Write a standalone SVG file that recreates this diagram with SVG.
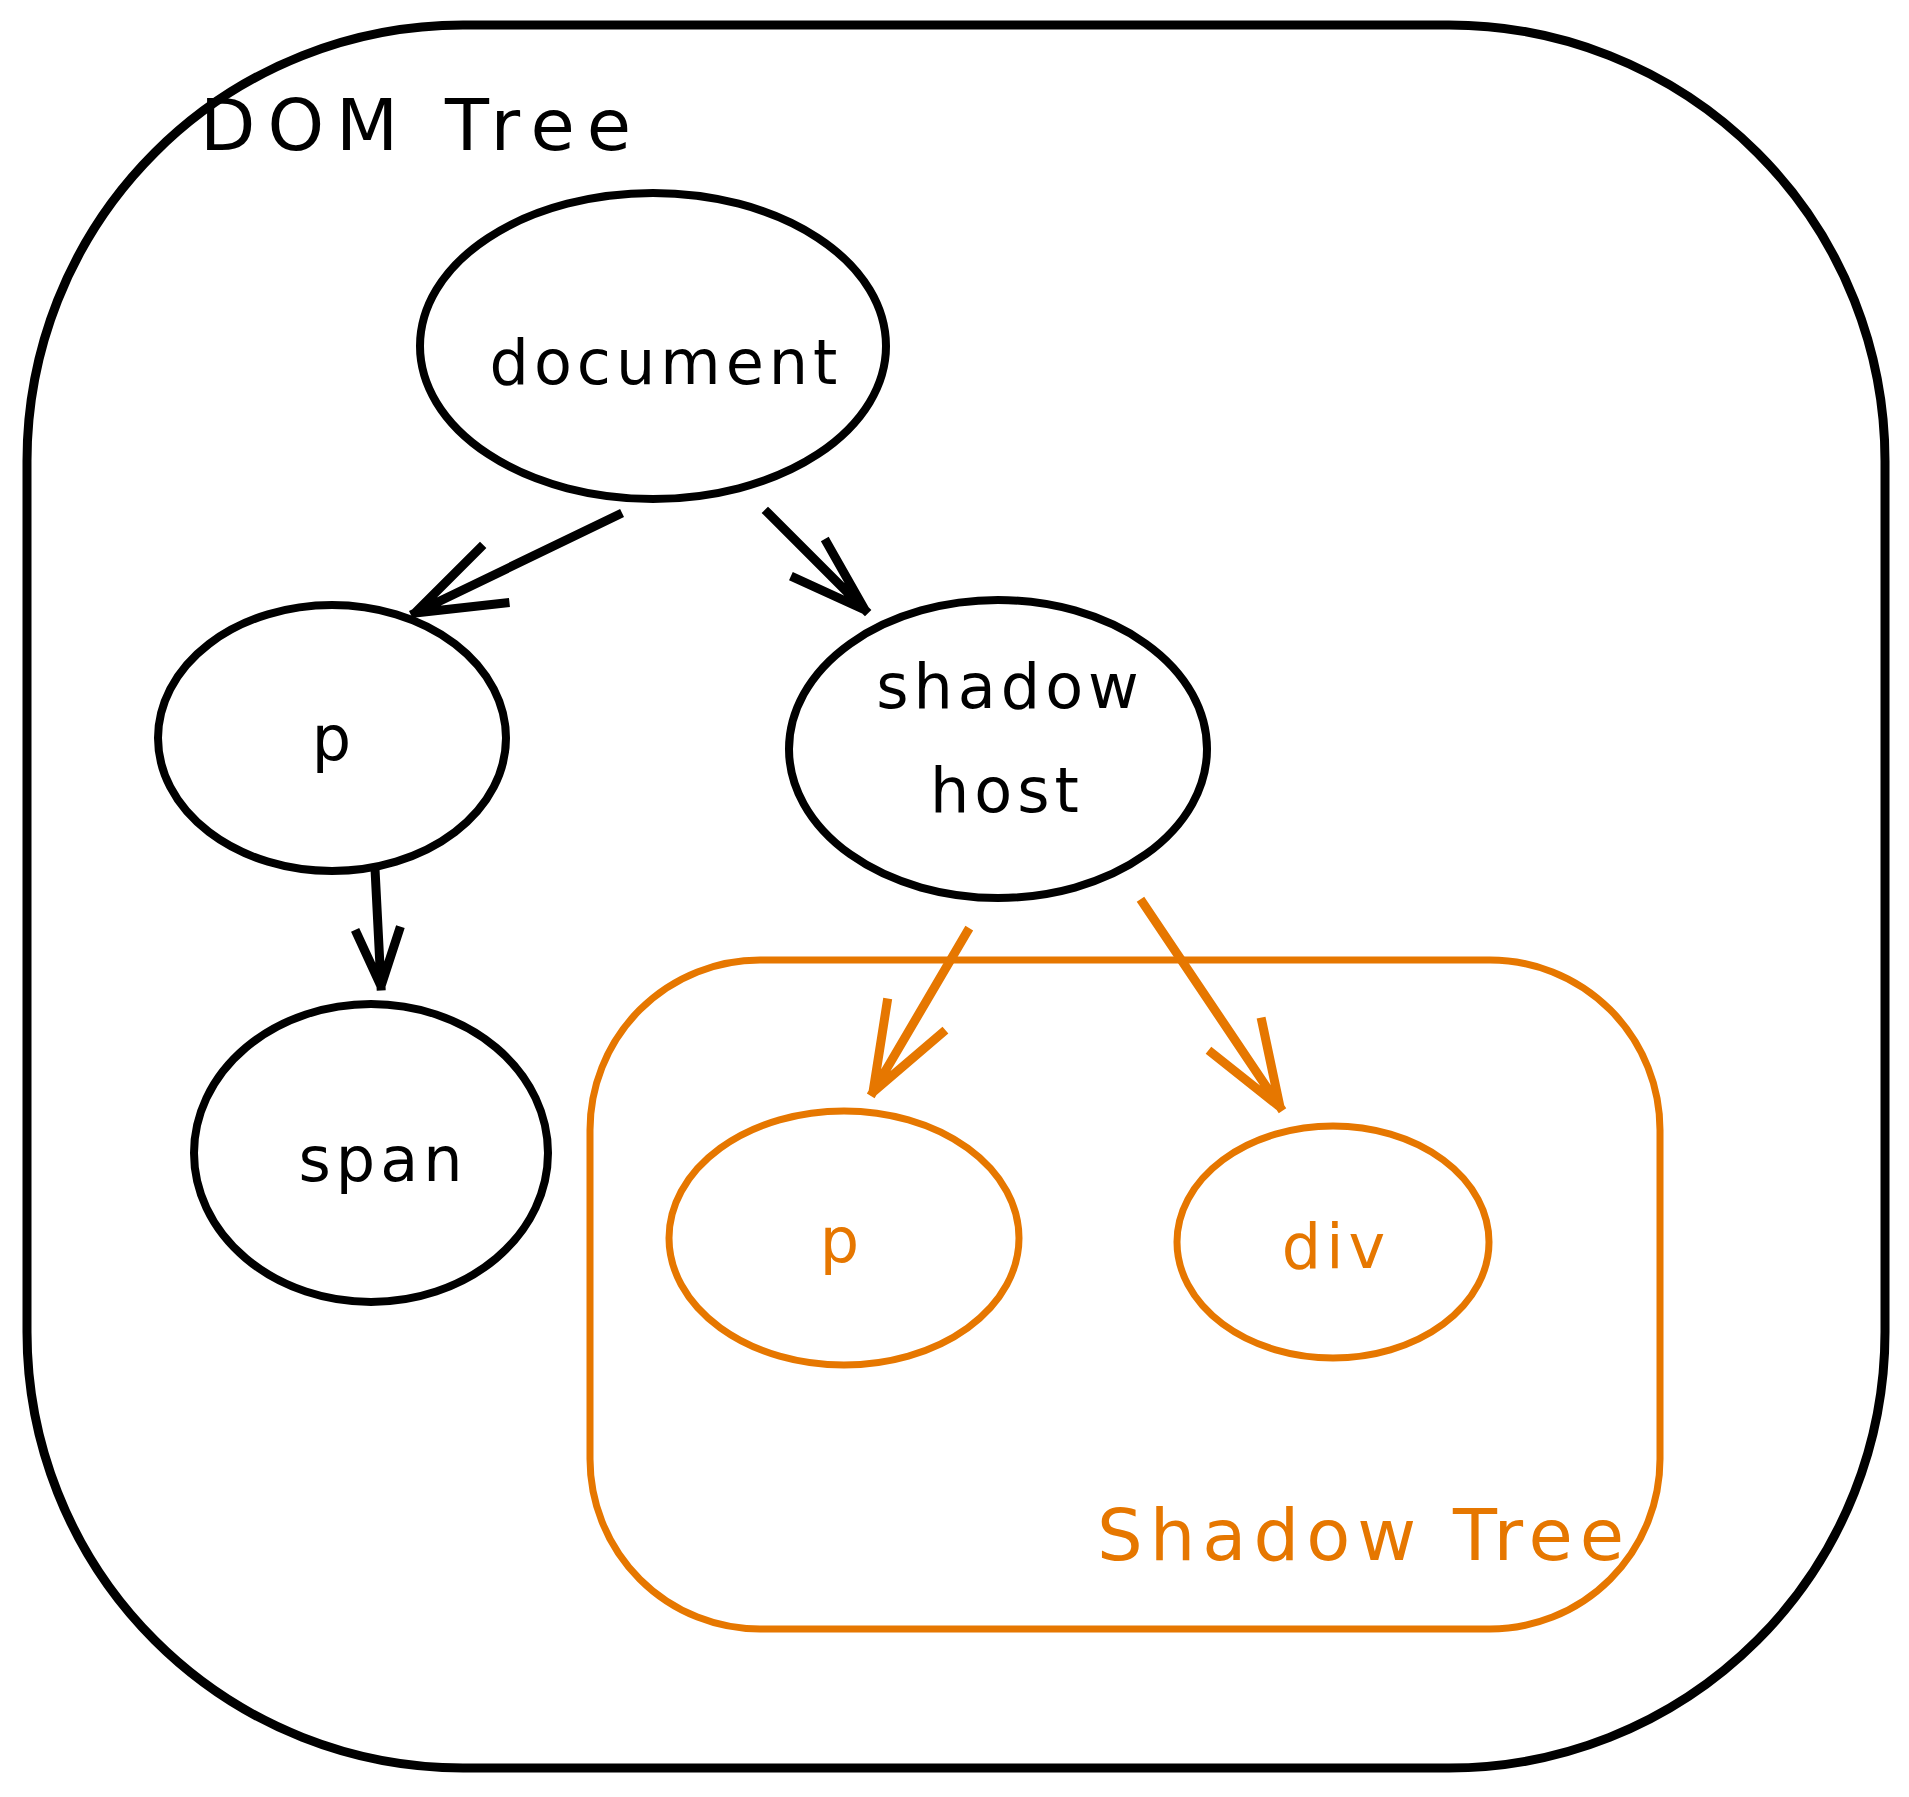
<svg xmlns="http://www.w3.org/2000/svg" width="1909" height="1797" viewBox="0 0 1909 1797">
<style>
.blk{fill:none;stroke:#000;stroke-width:8;stroke-linecap:round;stroke-linejoin:round}
.outer{stroke-width:9}
.org{fill:none;stroke:#e67700;stroke-width:7;stroke-linecap:round;stroke-linejoin:round}
.arrB{fill:none;stroke:#000;stroke-width:9;stroke-linecap:square;stroke-linejoin:round}
.arrO{fill:none;stroke:#e67700;stroke-width:9;stroke-linecap:square;stroke-linejoin:round}
.t{font-family:"DejaVu Sans","Liberation Sans",sans-serif;font-size:62px;letter-spacing:5px;text-anchor:middle}
.tb{fill:#000}
.to{fill:#e67700}
</style>
<rect width="1909" height="1797" fill="#fff"/>
<g id="dom-tree">
<rect class="blk outer" x="27" y="25" width="1858" height="1743" rx="436" ry="436"/>
<text class="t tb" x="200" y="150" style="text-anchor:start;font-size:72px;letter-spacing:12px">DOM Tree</text>
</g>
<g id="shadow-tree">
<rect class="org" x="590" y="960" width="1070" height="669" rx="170" ry="170"/>
<text class="t to" x="1097" y="1560" style="text-anchor:start;font-size:72px;letter-spacing:7px">Shadow Tree</text>
</g>
<g id="node-document">
<ellipse class="blk" cx="653" cy="346" rx="233" ry="153"/>
<text class="t tb" x="666" y="384">document</text>
</g>
<g id="node-p">
<ellipse class="blk" cx="332" cy="738" rx="174" ry="133"/>
<text class="t tb" x="334" y="760">p</text>
</g>
<g id="node-shadow-host">
<ellipse class="blk" cx="998" cy="749" rx="209" ry="149"/>
<text class="t tb" x="1010" y="708">shadow</text>
<text class="t tb" x="1007" y="812">host</text>
</g>
<g id="node-span">
<ellipse class="blk" cx="371" cy="1153" rx="177" ry="149"/>
<text class="t tb" x="383" y="1181">span</text>
</g>
<g id="node-shadow-p">
<ellipse class="org" cx="844" cy="1238" rx="175" ry="127"/>
<text class="t to" x="842" y="1262">p</text>
</g>
<g id="node-div">
<ellipse class="org" cx="1333" cy="1242" rx="156" ry="116"/>
<text class="t to" x="1336" y="1268">div</text>
</g>
<g id="connectors">
<path class="arrB" d="M618 515 L415 613 M480 548 L415 613 L505 603"/>
<path class="arrB" d="M768 513 L865 610 M827 543 L865 610 L795 578"/>
<path class="arrB" d="M375 869 L381 986 M357 934 L381 986 L399 931"/>
<path class="arrO" d="M967 932 L873 1092 M887 1003 L873 1092 L942 1033"/>
<path class="arrO" d="M1143 903 L1280 1107 M1262 1022 L1280 1107 L1212 1053"/>
</g>
</svg>
